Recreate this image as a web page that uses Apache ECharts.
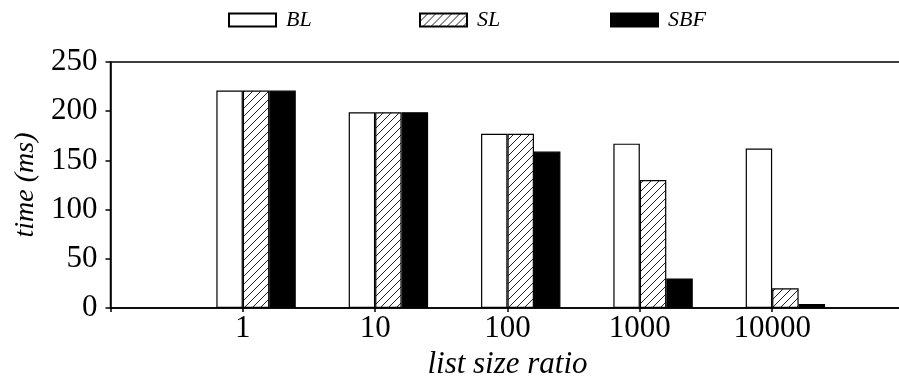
<!DOCTYPE html>
<html>
<head>
<meta charset="utf-8">
<script src="https://cdn.jsdelivr.net/npm/echarts@6/dist/echarts.min.js"></script>
<style>
  html, body { margin: 0; padding: 0; background: #fff; }
  #chart { width: 899px; height: 377px; }
</style>
</head>
<body>
<div id="chart"></div>
<script>
// List size ratios (x categories) and query time in ms per method
const ratios = ['1', '10', '100', '1000', '10000'];
const blTime = [221, 199, 177, 167, 162];
const slTime = [221, 199, 177, 130, 20];
const sbfTime = [221, 199, 159, 30, 4];
const yTicks = [0, 50, 100, 150, 200, 250];
const methods = ['BL', 'SL', 'SBF'];

const FONT = 'Liberation Serif';

// Diagonal "/" hatch used for the SL bars
function makeHatch() {
  const c = document.createElement('canvas');
  c.width = 8; c.height = 8;
  const g = c.getContext('2d');
  g.fillStyle = '#fff';
  g.fillRect(0, 0, 8, 8);
  g.strokeStyle = '#222';
  g.lineWidth = 1;
  g.beginPath();
  g.moveTo(-1, 9); g.lineTo(9, -1);
  g.moveTo(-1, 1); g.lineTo(1, -1);
  g.moveTo(7, 9); g.lineTo(9, 7);
  g.stroke();
  return c;
}

// Axis has an empty slot on each side of the data categories
const cats = [''].concat(ratios, [' ']);
const pad = arr => ['-'].concat(arr, ['-']);

const chart = echarts.init(document.getElementById('chart'), null, { renderer: 'canvas' });

const barBase = { type: 'bar', barWidth: '20%', barGap: '0%' };

// one legend block per method, evenly spaced along the top
const legendLeft = [228, 419, 610];
const legends = methods.map((m, i) => ({
  data: [m],
  left: legendLeft[i],
  top: 9,
  icon: 'rect',
  itemWidth: 47,
  itemHeight: 13,
  padding: 0,
  textStyle: {
    fontFamily: FONT, fontStyle: 'italic', fontSize: 22, color: '#000',
    padding: [0, 0, 0, 5]
  }
}));

chart.setOption({
  animation: false,
  backgroundColor: '#fff',
  legend: legends,
  grid: {
    left: 110.5, top: 62, width: 794, bottom: 69,
    outerBoundsMode: 'none',
    containLabel: false,
    show: true, borderColor: '#000', borderWidth: 1.5, backgroundColor: 'transparent'
  },
  xAxis: {
    type: 'category',
    data: cats,
    boundaryGap: false,
    name: 'list size ratio',
    nameLocation: 'middle',
    nameGap: 35,
    nameTextStyle: { fontFamily: FONT, fontStyle: 'italic', fontSize: 31, color: '#000' },
    axisLine: { lineStyle: { color: '#000', width: 1.5 } },
    axisTick: { show: true, length: 4, lineStyle: { color: '#000', width: 1.5 } },
    axisLabel: { fontFamily: FONT, fontSize: 31, color: '#000', margin: 5 },
    splitLine: { show: false }
  },
  yAxis: {
    type: 'value',
    min: yTicks[0],
    max: yTicks[yTicks.length - 1],
    interval: 50,
    name: 'time (ms)',
    nameLocation: 'middle',
    nameGap: 71,
    nameTextStyle: { fontFamily: FONT, fontStyle: 'italic', fontSize: 28, color: '#000' },
    axisLine: { show: true, lineStyle: { color: '#000', width: 1.5 } },
    axisTick: { show: true, length: 5, lineStyle: { color: '#000', width: 1.5 } },
    axisLabel: { fontFamily: FONT, fontSize: 31, color: '#000', margin: 13 },
    splitLine: { show: false }
  },
  series: [
    // empty slot so the first bar of each group starts left of the tick
    Object.assign({}, barBase, { name: '_slot', data: pad(ratios.map(() => '-')), silent: true }),
    Object.assign({}, barBase, {
      name: 'BL', data: pad(blTime),
      itemStyle: { color: '#fff', borderColor: '#000', borderWidth: 1.2 }
    }),
    Object.assign({}, barBase, {
      name: 'SL', data: pad(slTime),
      itemStyle: { color: { image: makeHatch(), repeat: 'repeat' }, borderColor: '#000', borderWidth: 1.2 }
    }),
    Object.assign({}, barBase, {
      name: 'SBF', data: pad(sbfTime),
      itemStyle: { color: '#000', borderColor: '#000', borderWidth: 1.2 }
    })
  ]
});
</script>
</body>
</html>
